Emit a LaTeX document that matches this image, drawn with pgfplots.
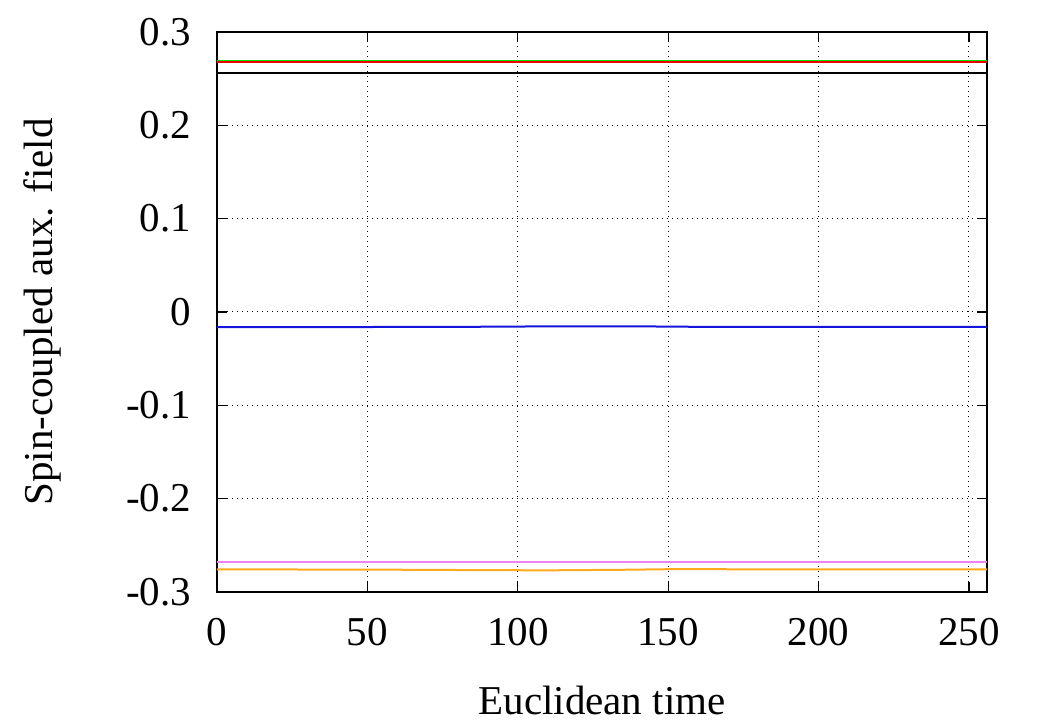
\documentclass[border=0pt]{standalone}
\usepackage{fontspec}
\setmainfont{Liberation Serif}
\usepackage{pgfplots}
\pgfplotsset{compat=1.18}
\definecolor{cgreen}{RGB}{0,230,0}
\definecolor{cred}{RGB}{235,0,0}
\definecolor{cblue}{RGB}{20,20,220}
\definecolor{cviolet}{RGB}{238,130,238}
\definecolor{corange}{RGB}{255,170,30}
\begin{document}
\fontsize{20.5}{24}\selectfont
\begin{tikzpicture}
\begin{axis}[
  scale only axis,
  width=385pt, height=280pt,
  xmin=0, xmax=256, ymin=-0.3, ymax=0.3,
  xtick={0,50,100,150,200,250},
  xticklabels={0,50,100,150,200,250},
  ytick={-0.3,-0.2,-0.1,0,0.1,0.2,0.3},
  yticklabels={-0.3,-0.2,-0.1,0,0.1,0.2,0.3},
  tick align=inside,
  major tick length=5pt,
  every tick/.style={black, line width=0.6pt},
  axis line style={line width=1.4pt},
  grid=major,
  major grid style={black, line width=0.5pt, dotted},
  ticklabel style={font=\fontsize{20.5}{24}\selectfont},
  xticklabel style={yshift=-6pt},
  yticklabel style={xshift=-6pt},
  xlabel={Euclidean time},
  ylabel={Spin-coupled aux. field},
  label style={font=\fontsize{20.5}{24}\selectfont},
  xlabel style={at={(rel axis cs:0.5,0)}, anchor=center, yshift=-54pt},
  ylabel style={at={(rel axis cs:0,0.5)}, anchor=center, yshift=87.5pt},
  every axis plot/.append style={line width=1pt, no markers},
]
\addplot[cgreen] coordinates {(0,0.2692) (50,0.2692) (100,0.2692) (150,0.2692) (200,0.2692) (256,0.2692)};
\addplot[cred] coordinates {(0,0.2676) (50,0.2676) (100,0.2676) (150,0.2676) (200,0.2676) (256,0.2676)};
\addplot[black] coordinates {(0,0.2563) (50,0.2563) (100,0.2563) (150,0.2563) (200,0.2563) (256,0.2563)};
\addplot[cblue] coordinates {(0,-0.0161) (50,-0.0161) (90,-0.0158) (110,-0.0154) (140,-0.0154) (160,-0.0159) (200,-0.0160) (256,-0.0160)};
\addplot[cviolet] coordinates {(0,-0.2683) (50,-0.2683) (100,-0.2683) (150,-0.2683) (200,-0.2683) (256,-0.2683)};
\addplot[corange] coordinates {(0,-0.2758) (50,-0.2760) (90,-0.2766) (110,-0.2768) (135,-0.2762) (150,-0.2756) (200,-0.2757) (256,-0.2758)};
\end{axis}
\pgfresetboundingbox
\path ([xshift=-108.5pt,yshift=-66pt]current axis.south west) rectangle ([xshift=25.5pt,yshift=16pt]current axis.north east);
\end{tikzpicture}
\end{document}
